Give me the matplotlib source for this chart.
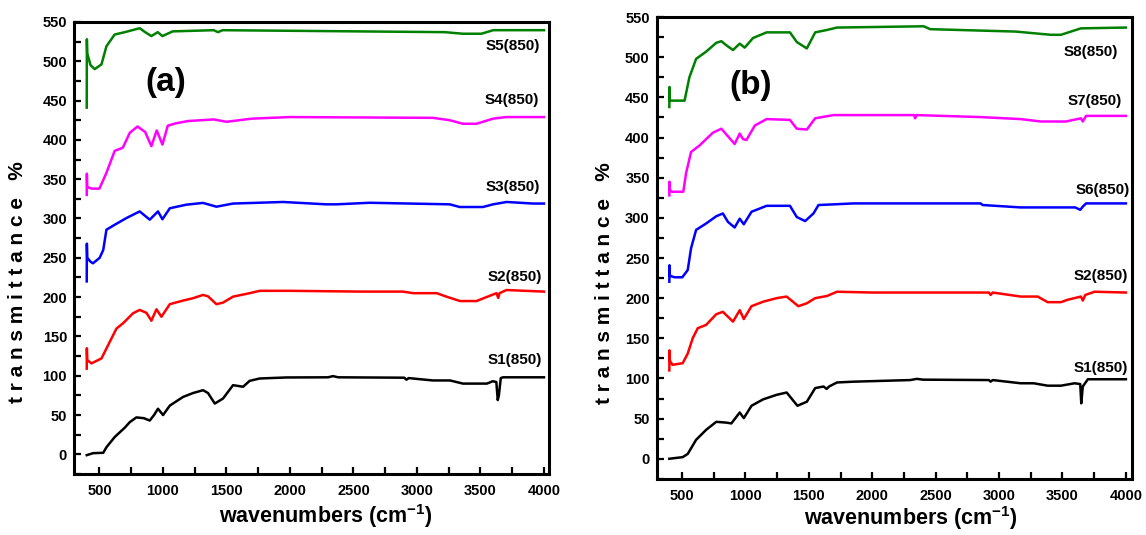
import numpy as np
import matplotlib.pyplot as plt
from matplotlib.ticker import MultipleLocator

plt.rcParams['font.family'] = ['Liberation Sans Narrow', 'Liberation Sans', 'DejaVu Sans']
plt.rcParams['font.weight'] = 'bold'
plt.rcParams['mathtext.fontset'] = 'custom'
plt.rcParams['mathtext.rm'] = 'Liberation Sans:bold'
plt.rcParams['mathtext.bf'] = 'Liberation Sans:bold'

# ---- panel (a) spectra (wavenumber, shifted transmittance) ----
s1a_x = [400, 450, 530, 555, 620, 700, 739, 791, 850, 896, 930, 961, 1001, 1054, 1158, 1237, 1316, 1355,
         1408, 1473, 1552, 1631, 1683, 1762, 1972, 2300, 2339, 2380, 2900, 2917, 2935, 3125, 3260, 3362,
         3551, 3597, 3625, 3636, 3645, 3660, 3678, 4000]
s1a_y = [-1, 1.5, 2, 9, 22, 34, 41, 47, 46, 43, 50, 58, 50, 62, 73, 78, 81.6, 78,
         64.6, 71, 88, 86, 93.5, 96.5, 97.8, 98, 99.5, 98, 97.5, 95, 97, 94, 94, 90,
         90, 93, 92, 69, 75, 97, 98, 98]

s2a_x = [400, 401, 404, 437, 516, 581, 634, 686, 765, 817, 870, 909, 949, 988, 1054, 1158, 1237, 1316,
         1355, 1421, 1473, 1552, 1683, 1762, 2000, 2570, 2890, 2970, 3156, 3232, 3339, 3469, 3547, 3626,
         3640, 3650, 3705, 4000]
s2a_y = [109, 135, 120, 115.7, 122, 143, 160, 166.7, 179.5, 183.7, 180, 170, 184.5, 175, 191, 195.6, 198.6, 202.8,
         201, 191, 193, 200.6, 205, 208, 208, 207, 207, 205, 205, 200.6, 195, 195, 200, 205,
         199, 205, 209, 207]

s3a_x = [400, 401, 404, 430, 449, 502, 530, 555, 620, 713, 817, 896, 961, 996, 1054, 1185, 1316, 1421,
         1552, 1946, 2287, 2366, 2628, 3258, 3337, 3519, 3600, 3705, 3915, 4000]
s3a_y = [220, 268, 250, 245, 243, 250, 260, 285.7, 292, 300.6, 309, 298.5, 309, 299, 313, 317.6, 319.8, 315,
         319, 321, 318, 318, 320, 318, 314.6, 314.6, 318, 321, 319, 319]

s4a_x = [400, 401, 404, 440, 500, 555, 620, 684, 739, 800, 860, 909, 951, 996, 1038, 1100, 1200, 1400,
         1500, 1700, 2000, 3127, 3258, 3361, 3469, 3600, 3700, 4000]
s4a_y = [330, 357, 340, 338, 338, 358, 386, 390, 409, 417, 410, 392, 412, 394, 418, 421, 424, 426,
         423, 427, 429, 428, 425, 420.5, 420.5, 427, 429, 429]

s5a_x = [400, 401, 404, 430, 463, 516, 555, 620, 700, 817, 860, 909, 959, 996, 1077, 1400, 1433, 1470,
         3219, 3361, 3508, 3600, 4000]
s5a_y = [441, 528, 510, 495, 490, 496, 519, 534, 537, 542, 537, 532, 537, 532, 538, 539.5, 537, 539.5,
         537, 535, 535, 539.5, 539.5]

# ---- panel (b) spectra ----
s1b_x = [400, 505, 545, 611, 690, 770, 849, 889, 955, 987, 1048, 1140, 1246, 1325, 1410, 1484, 1550, 1616,
         1640, 1660, 1722, 1854, 2300, 2351, 2400, 2920, 2933, 2950, 3170, 3273, 3383, 3488, 3595, 3640,
         3648, 3660, 3700, 4000]
s1b_y = [0, 2, 6, 23.6, 36, 46, 45, 44, 57.6, 50.6, 66, 74, 79.6, 82.5, 66, 71, 88, 90,
         87, 90, 95, 96, 98, 99.5, 98.5, 98, 96, 98, 94, 94, 91, 91, 94, 93,
         69, 90, 99, 99]

s2b_x = [400, 401, 404, 425, 505, 545, 584, 624, 690, 770, 822, 902, 955, 987, 1048, 1140, 1246, 1325,
         1417, 1484, 1550, 1643, 1722, 2000, 2920, 2933, 2950, 3170, 3304, 3383, 3488, 3541, 3645, 3660,
         3680, 3753, 4000]
s2b_y = [110, 135, 122, 117, 119, 131, 150, 162.6, 166.7, 180, 183, 170.8, 185, 174, 190, 195.6, 200, 202,
         190, 193.6, 200, 202.7, 208, 207, 207, 204, 207, 202, 202, 195, 195, 198, 202, 197,
         204, 208, 207]

s6b_x = [400, 401, 404, 440, 502, 545, 571, 611, 690, 770, 822, 862, 915, 955, 987, 1048, 1167, 1351,
         1405, 1471, 1537, 1576, 1722, 1852, 2854, 2870, 3170, 3600, 3640, 3660, 3686, 4000]
s6b_y = [220.5, 241, 228, 226, 226, 235, 262, 285, 293, 302, 305.5, 295, 288, 299, 292, 307.6, 315, 315,
         301, 296, 305.6, 316, 317, 318, 318, 316, 313, 313, 310, 314, 318, 318]

s7b_x = [400, 401, 404, 420, 510, 532, 571, 637, 743, 810, 915, 955, 981, 1008, 1074, 1167, 1351, 1405,
         1484, 1550, 1695, 2330, 2338, 2346, 2854, 3170, 3330, 3528, 3645, 3660, 3686, 4000]
s7b_y = [328, 345, 335, 332.5, 332.5, 355.7, 382, 390, 406, 411, 392, 405, 398, 397, 415, 423, 422, 411,
         410, 424, 428, 428, 424, 428, 425.5, 423, 420, 420, 424, 420, 427, 427]

s8b_x = [400, 401, 404, 420, 520, 558, 611, 690, 770, 810, 849, 902, 955, 994, 1060, 1167, 1351, 1405,
         1484, 1550, 1643, 1722, 2405, 2457, 3132, 3407, 3488, 3645, 4000]
s8b_y = [438, 463, 446, 446, 446, 475, 498, 507, 518, 520, 515, 509, 517, 512, 524, 531, 531, 519,
         511, 531, 534, 537, 538.6, 535, 532, 528, 528, 536, 537]

labels_a = ['S1(850)', 'S2(850)', 'S3(850)', 'S4(850)', 'S5(850)']
labels_b = ['S1(850)', 'S2(850)', 'S6(850)', 'S7(850)', 'S8(850)']
colors = ['black', '#ff0000', '#0000ff', '#ff00ff', '#008000']

lab_a_x = [3770, 3770, 3757, 3744, 3757]
lab_a_y = [120, 226, 340, 451, 519]
lab_b_x = [3805, 3805, 3821, 3757, 3725]
lab_b_y = [113, 227, 335, 446, 506]

series_a = [(s1a_x, s1a_y), (s2a_x, s2a_y), (s3a_x, s3a_y), (s4a_x, s4a_y), (s5a_x, s5a_y)]
series_b = [(s1b_x, s1b_y), (s2b_x, s2b_y), (s6b_x, s6b_y), (s7b_x, s7b_y), (s8b_x, s8b_y)]

fig = plt.figure(figsize=(11.46, 5.35), dpi=100)
ax1 = fig.add_axes([0.0646, 0.114, 0.4145, 0.845])
ax2 = fig.add_axes([0.573, 0.105, 0.415, 0.863])


def style(ax, xmax):
    ax.set_xlim(300, xmax)
    ax.set_ylim(-25, 550)
    ax.xaxis.set_major_locator(MultipleLocator(500))
    ax.xaxis.set_minor_locator(MultipleLocator(250))
    ax.yaxis.set_major_locator(MultipleLocator(50))
    ax.yaxis.set_minor_locator(MultipleLocator(25))
    ax.tick_params(which='both', direction='in', length=5, width=1.6,
                   top=False, right=False, labelsize=10.5)
    ax.tick_params(axis='x', pad=7)
    ax.tick_params(axis='y', pad=5)
    for sp in ax.spines.values():
        sp.set_linewidth(2.2)
    for lab in ax.get_xticklabels() + ax.get_yticklabels():
        lab.set_fontweight('bold')
    ax.set_ylabel('t r a n s m i t t a n c e   %', fontsize=15,
                  family=['Liberation Sans', 'DejaVu Sans'], fontweight='bold')
    ax.set_xlabel(r'wavenumbers (cm$^{\mathbf{-1}}$)', fontsize=15.5, fontweight='bold')


for ax, series, labs, lx, ly, xmax in [(ax1, series_a, labels_a, lab_a_x, lab_a_y, 4040),
                                       (ax2, series_b, labels_b, lab_b_x, lab_b_y, 4050)]:
    for (x, y), c, lab, tx, ty in zip(series, colors, labs, lx, ly):
        ax.plot(x, y, color=c, lw=1.8)
        ax.text(tx, ty, lab, ha='center', va='center', fontsize=11, fontweight='bold')
    style(ax, xmax)

ax1.text(1022, 473, '(a)', ha='center', va='center', fontsize=24, fontweight='bold')
ax2.text(1042, 465, '(b)', ha='center', va='center', fontsize=24, fontweight='bold')

ax1.xaxis.set_label_coords(0.53, -0.093)
ax1.xaxis.label.set_verticalalignment('center')
ax2.xaxis.set_label_coords(0.535, -0.085)
ax2.xaxis.label.set_verticalalignment('center')
ax1.yaxis.set_label_coords(-0.118, 0.425)
ax1.yaxis.label.set_verticalalignment('center')
ax2.yaxis.set_label_coords(-0.109, 0.424)
ax2.yaxis.label.set_verticalalignment('center')

plt.savefig('out.png', dpi=100)
